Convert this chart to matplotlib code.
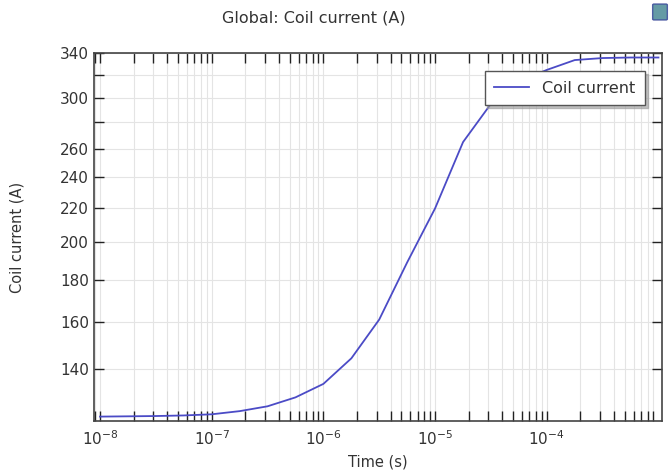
import numpy as np
import matplotlib.pyplot as plt
from matplotlib.ticker import FixedLocator, FixedFormatter, NullFormatter, LogLocator, LogFormatterMathtext
from matplotlib.patches import FancyBboxPatch

# solver output times (s), four per decade, and coil current (A)
time_s = [1e-8, 1.78e-8, 3.16e-8, 5.62e-8,
          1e-7, 1.78e-7, 3.16e-7, 5.62e-7,
          1e-6, 1.78e-6, 3.16e-6, 5.62e-6,
          1e-5, 1.78e-5, 3.16e-5, 5.62e-5,
          1e-4, 1.78e-4, 3.16e-4, 5.62e-4, 1e-3]
coil_current = [122.6, 122.7, 122.8, 123.0,
                123.4, 124.5, 126.2, 129.4,
                134.4, 144.4, 161.0, 189.0,
                220.0, 265.0, 295.0, 314.0,
                324.5, 333.6, 335.5, 336.0, 336.0]

x_major = [1e-8, 1e-7, 1e-6, 1e-5, 1e-4]
y_major = [140, 160, 180, 200, 220, 240, 260, 300, 340]
y_minor = [280, 320]

line_col = '#4b4bc6'
text_col = '#333333'

fig = plt.figure(figsize=(6.72, 4.73), dpi=100)
ax = fig.add_axes([94 / 672, 1 - 420.7 / 473, (661.7 - 94) / 672, (420.7 - 53.3) / 473])

ax.plot(time_s, coil_current, color=line_col, lw=1.3, label='Coil current')

ax.set_xscale('log')
ax.set_yscale('log')
ax.set_xlim(10 ** -8.054, 10 ** -2.971)
ax.set_ylim(121.2, 340)

ax.xaxis.set_major_locator(FixedLocator(x_major))
ax.xaxis.set_major_formatter(LogFormatterMathtext())
ax.xaxis.set_minor_locator(LogLocator(base=10, subs=np.arange(2, 10), numticks=12))
ax.xaxis.set_minor_formatter(NullFormatter())

ax.yaxis.set_major_locator(FixedLocator(y_major))
ax.yaxis.set_major_formatter(FixedFormatter([str(v) for v in y_major]))
ax.yaxis.set_minor_locator(FixedLocator(y_minor))
ax.yaxis.set_minor_formatter(NullFormatter())

ax.tick_params(which='both', direction='in', top=True, right=True,
               length=7, width=1.0, color='#222222', labelsize=11, labelcolor=text_col)
ax.tick_params(axis='x', which='major', pad=6)
ax.grid(True, which='both', color='#e4e4e4', lw=0.8)
ax.set_axisbelow(True)
for s in ax.spines.values():
    s.set_color('#444444')
    s.set_linewidth(1.2)

ax.set_xlabel('Time (s)', fontsize=10.5, color=text_col, labelpad=5)
ax.set_ylabel('Coil current (A)', fontsize=10.5, color=text_col, labelpad=26)

leg = ax.legend(loc='upper right', bbox_to_anchor=(0.9706, 0.952), borderaxespad=0,
                fontsize=11.5, frameon=True, fancybox=False,
                shadow={'color': '#999999', 'alpha': 0.6}, handlelength=2.2,
                borderpad=0.6, labelcolor=text_col)
leg.get_frame().set_edgecolor('#555555')
leg.get_frame().set_linewidth(1.0)

fig.text(314 / 672, 1 - 18 / 473, 'Global: Coil current (A)', ha='center', va='center',
         fontsize=11.5, color=text_col)

# small toolbar icon in the corner
icon = FancyBboxPatch((654 / 672, 1 - 19 / 473), 12 / 672, 14 / 473,
                      boxstyle='round,pad=0.002', transform=fig.transFigure,
                      facecolor='#4a8a96', edgecolor='#3a4a9a', lw=1.0, alpha=0.85)
fig.patches.append(icon)

fig.savefig('out.png', dpi=100)
